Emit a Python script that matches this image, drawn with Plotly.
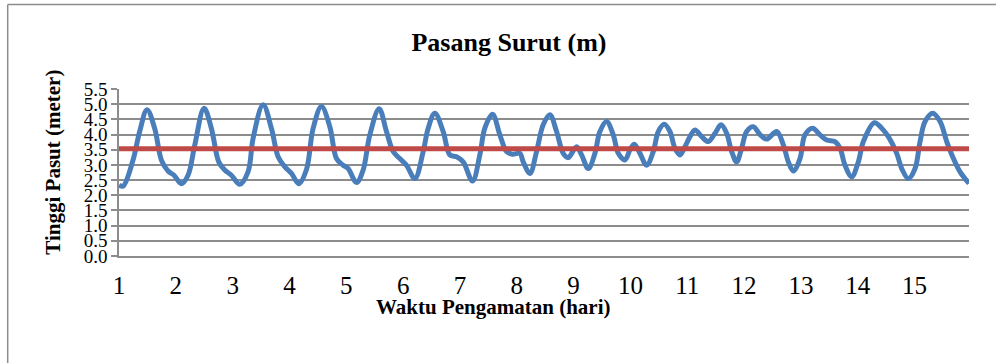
import plotly.graph_objects as go

# Waktu (hari) dan tinggi pasut (m)
hari = [1.000, 1.071, 1.247, 1.364, 1.493, 1.628, 1.746, 1.863, 1.969, 2.098,
        2.215, 2.333, 2.497, 2.626, 2.755, 2.861, 2.978, 3.125, 3.272, 3.360,
        3.536, 3.683, 3.800, 3.917, 4.035, 4.164, 4.299, 4.416, 4.563, 4.710,
        4.827, 4.944, 5.032, 5.179, 5.296, 5.414, 5.578, 5.707, 5.825, 5.942,
        6.059, 6.206, 6.353, 6.441, 6.558, 6.705, 6.822, 6.940, 7.057, 7.221,
        7.350, 7.438, 7.573, 7.702, 7.820, 7.925, 8.054, 8.113, 8.231, 8.348,
        8.465, 8.583, 8.700, 8.817, 8.906, 9.052, 9.140, 9.258, 9.375, 9.463,
        9.580, 9.698, 9.786, 9.903, 9.991, 10.067, 10.167, 10.285, 10.402, 10.490,
        10.596, 10.695, 10.783, 10.871, 10.959, 11.048, 11.136, 11.253, 11.370, 11.488,
        11.593, 11.693, 11.781, 11.869, 11.957, 12.045, 12.163, 12.280, 12.397, 12.573,
        12.691, 12.779, 12.867, 12.984, 13.072, 13.207, 13.336, 13.454, 13.600, 13.688,
        13.776, 13.894, 14.011, 14.099, 14.293, 14.422, 14.539, 14.686, 14.774, 14.891,
        15.009, 15.097, 15.185, 15.320, 15.449, 15.566, 15.684, 15.801, 15.958]
tinggi = [2.33, 2.30, 3.16, 4.10, 4.82, 4.20, 3.16, 2.80, 2.66, 2.38,
          2.66, 3.65, 4.87, 4.20, 3.10, 2.83, 2.66, 2.36, 2.78, 3.88,
          4.98, 4.20, 3.27, 2.94, 2.72, 2.38, 2.85, 4.20, 4.92, 4.26,
          3.21, 2.99, 2.88, 2.42, 2.83, 3.99, 4.85, 4.10, 3.44, 3.21,
          2.99, 2.55, 3.44, 4.21, 4.70, 4.10, 3.33, 3.27, 3.10, 2.47,
          3.33, 4.21, 4.67, 3.99, 3.44, 3.35, 3.38, 3.10, 2.72, 3.44,
          4.32, 4.65, 4.10, 3.38, 3.24, 3.60, 3.33, 2.88, 3.38, 4.10,
          4.43, 3.99, 3.38, 3.16, 3.49, 3.68, 3.38, 2.99, 3.44, 4.10,
          4.34, 4.10, 3.55, 3.33, 3.60, 3.93, 4.15, 3.93, 3.77, 4.04,
          4.32, 4.04, 3.44, 3.10, 3.55, 4.10, 4.26, 4.00, 3.85, 4.10,
          3.66, 3.10, 2.80, 3.21, 3.99, 4.21, 3.99, 3.82, 3.77, 3.55,
          2.99, 2.61, 3.10, 3.77, 4.39, 4.21, 3.93, 3.38, 2.88, 2.55,
          2.88, 3.77, 4.43, 4.70, 4.43, 3.77, 3.21, 2.77, 2.39]
msl = 3.53
tick_hari = list(range(1, 16))
tick_tinggi = [0.0, 0.5, 1.0, 1.5, 2.0, 2.5, 3.0, 3.5, 4.0, 4.5, 5.0, 5.5]

FONT = "Liberation Serif"
GRID = "#8c8c8c"

fig = go.Figure()
fig.add_trace(go.Scatter(x=hari, y=tinggi, mode="lines",
                         line=dict(color="#4A7EBB", width=5, shape="spline", smoothing=1.0),
                         showlegend=False, hoverinfo="x+y"))
fig.add_trace(go.Scatter(x=[hari[0], hari[-1]], y=[msl, msl], mode="lines",
                         line=dict(color="#BE4B48", width=5),
                         showlegend=False))

fig.update_layout(
    width=996, height=363,
    margin=dict(l=119, r=27, t=89, b=107),
    paper_bgcolor="white", plot_bgcolor="white",
    font=dict(family=FONT, color="black"),
    title=dict(text="<b>Pasang Surut (m)</b>", font=dict(family=FONT, size=26, color="black"),
               xref="container", x=509/996, xanchor="center",
               yref="container", y=1 - 42/363, yanchor="middle"),
    xaxis=dict(range=[1, hari[-1]], tickvals=tick_hari, ticktext=[str(t) for t in tick_hari],
               showgrid=False, zeroline=False, showline=True, linecolor=GRID, linewidth=1.5,
               ticks="", tickfont=dict(family=FONT, size=25, color="black"),
               ticklabelstandoff=6),
    yaxis=dict(range=[0, 5.5], tickvals=tick_tinggi, ticktext=[f"{v:.1f}" for v in tick_tinggi],
               showgrid=True, gridcolor=GRID, gridwidth=1.5, zeroline=False,
               showline=True, linecolor=GRID, linewidth=1.5,
               ticks="outside", ticklen=6, tickcolor=GRID, tickwidth=1.5,
               tickfont=dict(family=FONT, size=19, color="black")),
    annotations=[
        dict(text="<b>Waktu Pengamatan (hari)</b>", xref="paper", yref="paper",
             x=(494 - 119.3) / 850, y=(255.7 - 307) / 166.4, xanchor="center", yanchor="middle",
             showarrow=False, font=dict(family=FONT, size=21, color="black")),
        dict(text="<b>Tinggi Pasut (meter)</b>", xref="paper", yref="paper",
             x=(53 - 119.3) / 850, y=(255.7 - 162) / 166.4, xanchor="center", yanchor="middle",
             textangle=-90, showarrow=False, font=dict(family=FONT, size=21, color="black")),
    ],
    shapes=[
        dict(type="line", xref="paper", yref="paper",
             x0=(8 - 119.3) / 850, x1=1.2, y0=(255.7 - 5) / 166.4, y1=(255.7 - 5) / 166.4,
             line=dict(color=GRID, width=1.5)),
        dict(type="line", xref="paper", yref="paper",
             x0=(8 - 119.3) / 850, x1=(8 - 119.3) / 850, y0=(255.7 - 5) / 166.4, y1=-1.0,
             line=dict(color=GRID, width=1.5)),
    ],
)

fig.write_html("out.html")
